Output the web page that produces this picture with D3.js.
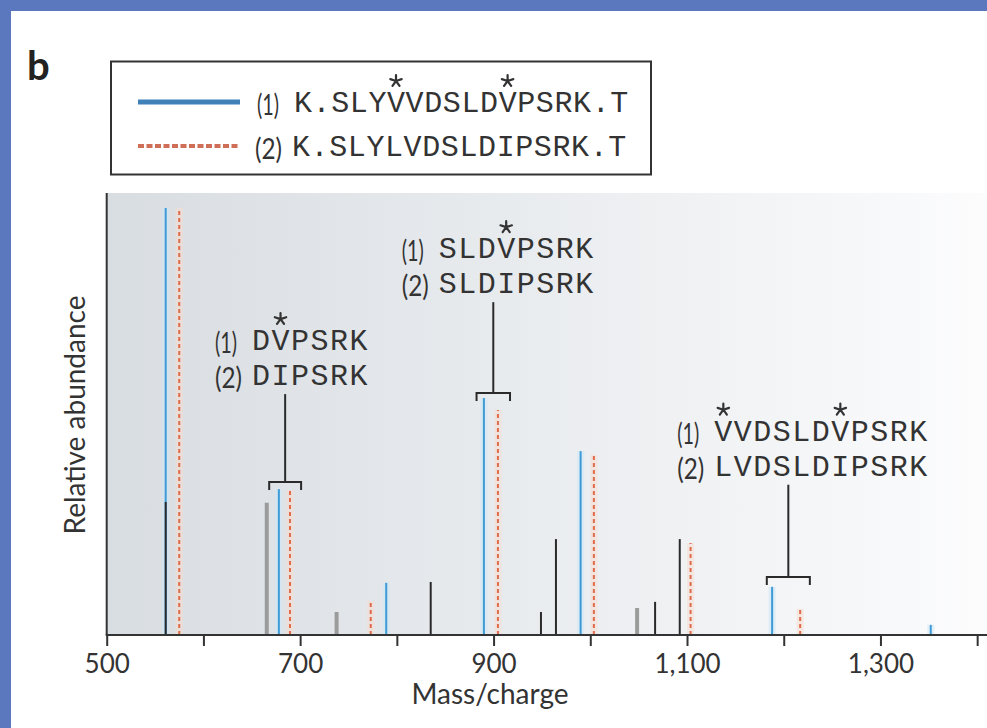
<!DOCTYPE html>
<html>
<head>
<meta charset="utf-8">
<script src="https://cdn.jsdelivr.net/npm/d3@7"></script>
<style>
  body { margin: 0; background: #fff; }
  svg { display: block; }
</style>
</head>
<body>
<div id="chart"></div>
<script>
// peaks (m/z, relative abundance in %)
var blueMz    = [561, 678, 789, 890, 990, 1188, 1352];
var blueAbund = [96.6, 33.0, 11.8, 53.6, 41.6, 10.9, 2.3];
var redMz     = [575, 689.5, 773, 904.5, 1003.7, 1103.7, 1217];
var redAbund  = [96.6, 32.8, 7.7, 50.9, 40.7, 20.8, 5.9];
var blackMz    = [561, 835, 949, 964.5, 1067, 1092.5];
var blackAbund = [30.1, 12.0, 5.2, 21.7, 7.5, 21.7];
var grayMz    = [665.5, 737.7, 1048.4];
var grayAbund = [29.9, 5.2, 6.1];

var tickValues = [500, 600, 700, 800, 900, 1000, 1100, 1200, 1300, 1400];
var labelledTicks = [500, 700, 900, 1100, 1300];

var legendNames = ["K.SLYVVDSLDVPSRK.T", "K.SLYLVDSLDIPSRK.T"];
var legendStars = [5, 11];

// fragment annotations: bracket span, bracket level, label level, text start
var annotations = [
  { from: 668, to: 701, level: 34.6, labelAt: 58.8, textMz: 612, seq1: "DVPSRK", seq2: "DIPSRK", stars: [1] },
  { from: 882.4, to: 917, level: 54.75, labelAt: 79.6, textMz: 805, seq1: "SLDVPSRK", seq2: "SLDIPSRK", stars: [3] },
  { from: 1182.5, to: 1227, level: 13.1, labelAt: 38.3, textMz: 1090, seq1: "VVDSLDVPSRK", seq2: "LVDSLDIPSRK", stars: [0, 6] }
];

var width = 987, height = 728;
var blue = "#3d9bd6", red = "#de6c4c", black = "#2a2a2a", gray = "#9b9b9b", ink = "#333";
var monoFont = "'Liberation Mono', 'Courier New', monospace";
var sansFont = "Lato, 'Open Sans', sans-serif";
var monoSize = 30;

var svg = d3.select("#chart").append("svg")
  .attr("width", width)
  .attr("height", height);

// blue frame on the left and top
svg.append("rect").attr("x", 0).attr("y", 0).attr("width", width).attr("height", 11).attr("fill", "#5b78be");
svg.append("rect").attr("x", 0).attr("y", 0).attr("width", 11).attr("height", height).attr("fill", "#5b78be");

var x = d3.scaleLinear().domain([500, 1405]).range([106.7, 982]);
var y = d3.scaleLinear().domain([0, 100]).range([635, 193]);

var defs = svg.append("defs");
var grad = defs.append("linearGradient").attr("id", "bg").attr("x1", "0%").attr("x2", "100%");
grad.append("stop").attr("offset", "0%").attr("stop-color", "#d8dde1");
grad.append("stop").attr("offset", "45%").attr("stop-color", "#e8ebee");
grad.append("stop").attr("offset", "100%").attr("stop-color", "#fcfcfd");

svg.append("rect")
  .attr("x", x(500)).attr("y", y(100))
  .attr("width", 987 - x(500)).attr("height", y(0) - y(100))
  .attr("fill", "url(#bg)");

var peaks = svg.append("g");

function drawPeaks(mz, abund, color, w, dash, halo) {
  var data = d3.zip(mz, abund);
  if (halo) {
    peaks.selectAll(null).data(data).enter().append("line")
      .attr("x1", function(d) { return x(d[0]) }).attr("x2", function(d) { return x(d[0]) })
      .attr("y1", y(0)).attr("y2", function(d) { return y(d[1]) })
      .style("stroke", halo).style("stroke-width", 7).style("opacity", 0.55);
  }
  peaks.selectAll(null).data(data).enter().append("line")
    .attr("x1", function(d) { return x(d[0]) }).attr("x2", function(d) { return x(d[0]) })
    .attr("y1", y(0)).attr("y2", function(d) { return y(d[1]) })
    .style("stroke", color)
    .style("stroke-width", w)
    .style("stroke-dasharray", dash || null);
}

drawPeaks(blueMz, blueAbund, blue, 2, null, "#cfe7f7");
drawPeaks(redMz, redAbund, red, 2, "4,3", "#f8ddd0");
drawPeaks(grayMz, grayAbund, gray, 4);
drawPeaks(blackMz, blackAbund, black, 2);

// axes
svg.append("line")
  .attr("x1", x(500)).attr("x2", x(500))
  .attr("y1", y(100)).attr("y2", y(0))
  .style("stroke", ink).style("stroke-width", 2);

var xAxis = d3.axisBottom(x)
  .tickValues(tickValues)
  .tickSize(11)
  .tickFormat(function(d) { return labelledTicks.indexOf(d) >= 0 ? d3.format(",")(d) : "" });

var gx = svg.append("g")
  .attr("transform", "translate(0," + y(0) + ")")
  .call(xAxis);
gx.select(".domain").remove();
gx.selectAll(".tick line").style("stroke", ink).style("stroke-width", 2);
gx.selectAll(".tick text")
  .attr("y", 38).attr("dy", 0)
  .style("font-family", sansFont).style("font-size", "26px").style("fill", ink);
gx.append("line")
  .attr("x1", x(500) - 1).attr("x2", 987)
  .style("stroke", ink).style("stroke-width", 2);

svg.append("text")
  .attr("x", 490).attr("y", 704)
  .attr("text-anchor", "middle")
  .style("font-family", sansFont).style("font-size", "28px").style("fill", ink)
  .text("Mass/charge");

svg.append("text")
  .attr("transform", "translate(85,415) rotate(-90)")
  .attr("text-anchor", "middle")
  .style("font-family", sansFont).style("font-size", "28px").style("fill", ink)
  .text("Relative abundance");

svg.append("text")
  .attr("x", 27).attr("y", 80)
  .style("font-family", sansFont).style("font-weight", "bold").style("font-size", "40px").style("fill", "#222")
  .text("b");

// five-armed asterisk drawn as a path
function star(g, cx, cy, r) {
  var d = "";
  for (var k = 0; k < 5; k++) {
    var a = -Math.PI / 2 + k * 2 * Math.PI / 5;
    d += "M" + cx + "," + cy + "L" + (cx + r * Math.cos(a)) + "," + (cy + r * Math.sin(a));
  }
  g.append("path").attr("d", d)
    .style("stroke", ink).style("stroke-width", 2.2).style("stroke-linecap", "round").style("fill", "none");
}

// numbered sequence line: "(n)" in narrow sans, then the peptide in mono, asterisks above starred residues
function seqLine(g, x0, baseline, num, seq, stars, spacing) {
  var cw = monoSize * 0.6 + spacing;
  g.append("text")
    .attr("x", x0).attr("y", baseline + 3)
    .attr("textLength", num == 1 ? 22 : 27).attr("lengthAdjust", "spacingAndGlyphs")
    .style("font-family", sansFont).style("font-size", "29px").style("fill", ink)
    .text("(" + num + ")");
  var sx = x0 + 37;
  g.append("text")
    .attr("x", sx).attr("y", baseline)
    .style("font-family", monoFont).style("font-size", monoSize + "px")
    .style("letter-spacing", spacing + "px").style("fill", ink)
    .text(seq);
  (stars || []).forEach(function(i) {
    star(g, sx + i * cw + monoSize * 0.3, baseline - 31, 6);
  });
}

// legend
var legend = svg.append("g");
legend.append("rect")
  .attr("x", 111).attr("y", 61.5).attr("width", 540).attr("height", 113)
  .style("fill", "#fff").style("stroke", ink).style("stroke-width", 2);
legend.append("line")
  .attr("x1", 138).attr("x2", 240).attr("y1", 102).attr("y2", 102)
  .style("stroke", "#3f80b8").style("stroke-width", 5);
legend.append("line")
  .attr("x1", 138).attr("x2", 240).attr("y1", 146).attr("y2", 146)
  .style("stroke", "#cf6f57").style("stroke-width", 4).style("stroke-dasharray", "6,2.5");
seqLine(legend, 257, 112, 1, legendNames[0], legendStars, 0.6);
seqLine(legend, 255, 156, 2, legendNames[1], [], 0.6);

// fragment annotations
var ann = svg.append("g");
annotations.forEach(function(a) {
  var mid = x((a.from + a.to) / 2);
  var by = y(a.level);
  var row2 = y(a.labelAt);
  ann.append("path")
    .attr("d", "M" + x(a.from) + "," + (by + 8) + "V" + by + "H" + x(a.to) + "V" + (by + 8))
    .style("fill", "none").style("stroke", black).style("stroke-width", 2);
  ann.append("line")
    .attr("x1", mid).attr("x2", mid).attr("y1", row2 + 19).attr("y2", by)
    .style("stroke", black).style("stroke-width", 2);
  var tx = x(a.textMz);
  seqLine(ann, tx, row2 - 35 + 10, 1, a.seq1, a.stars, 1.5);
  seqLine(ann, tx, row2 + 10, 2, a.seq2, [], 1.5);
});
</script>
</body>
</html>
